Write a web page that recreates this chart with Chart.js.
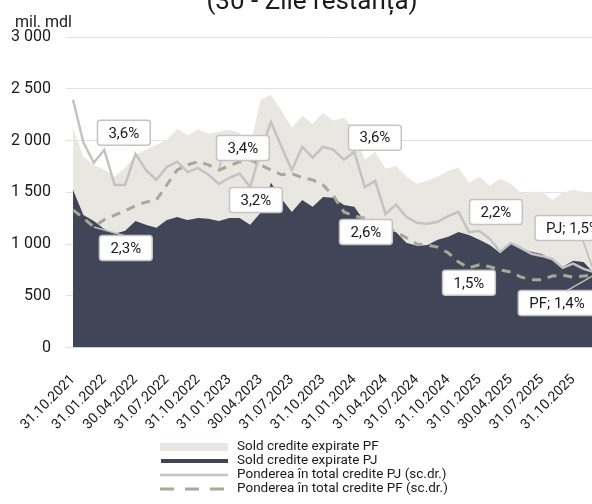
<!DOCTYPE html>
<html>
<head>
<meta charset="utf-8">
<script src="https://cdn.jsdelivr.net/npm/chart.js@4.4.1/dist/chart.umd.min.js"></script>
<style>
  html, body { margin: 0; padding: 0; background: #fff; overflow: hidden; }
  #wrap { width: 592px; height: 504px; overflow: hidden; position: relative; }
  canvas { display: block; }
</style>
</head>
<body>
<div id="wrap"><canvas id="chart" width="604" height="504"></canvas></div>
<script>
// month-end dates, Oct 2021 .. Dec 2025 (every 3rd one is shown on the axis)
const categories = [
  '31.10.2021', '30.11.2021', '31.12.2021', '31.01.2022', '28.02.2022', '31.03.2022',
  '30.04.2022', '31.05.2022', '30.06.2022', '31.07.2022', '31.08.2022', '30.09.2022',
  '31.10.2022', '30.11.2022', '31.12.2022', '31.01.2023', '28.02.2023', '31.03.2023',
  '30.04.2023', '31.05.2023', '30.06.2023', '31.07.2023', '31.08.2023', '30.09.2023',
  '31.10.2023', '30.11.2023', '31.12.2023', '31.01.2024', '29.02.2024', '31.03.2024',
  '31.04.2024', '31.05.2024', '30.06.2024', '31.07.2024', '31.08.2024', '30.09.2024',
  '31.10.2024', '30.11.2024', '31.12.2024', '31.01.2025', '28.02.2025', '31.03.2025',
  '30.04.2025', '31.05.2025', '30.06.2025', '31.07.2025', '31.08.2025', '30.09.2025',
  '31.10.2025', '30.11.2025', '31.12.2025'
];

// mil. mdl
const pjSold = [1523, 1281, 1223, 1146, 1098, 1127, 1223, 1185, 1156, 1233, 1262, 1233,
  1252, 1243, 1223, 1252, 1252, 1185, 1301, 1591, 1440, 1310, 1426, 1359, 1455, 1446,
  1378, 1359, 1214, 1175, 1136, 1117, 1011, 982, 991, 1040, 1069, 1117, 1088, 1040,
  991, 914, 1011, 953, 924, 904, 846, 779, 837, 827, 720];
const pfSold = [598, 561, 542, 571, 551, 609, 639, 725, 802, 773, 851, 818,
  857, 822, 861, 851, 823, 754, 1093, 851, 847, 813, 813, 803, 813, 745,
  841, 745, 599, 716, 590, 638, 638, 599, 619, 609, 638, 619, 503, 609,
  571, 716, 570, 541, 580, 600, 580, 715, 686, 677, 765];

// % of total credits (secondary axis)
const pjShare = [4.79, 3.96, 3.57, 3.82, 3.14, 3.14, 3.74, 3.43, 3.24, 3.49, 3.59, 3.39,
  3.47, 3.34, 3.16, 3.28, 3.36, 3.10, 3.78, 4.36, 3.88, 3.43, 3.88, 3.67, 3.88, 3.82,
  3.63, 3.78, 3.10, 3.22, 2.58, 2.76, 2.52, 2.41, 2.39, 2.43, 2.54, 2.62, 2.23, 2.25,
  2.10, 1.85, 2.02, 1.92, 1.81, 1.77, 1.71, 1.54, 1.62, 1.52, 1.46];
const pfShare = [2.66, 2.50, 2.33, 2.47, 2.56, 2.64, 2.74, 2.81, 2.85, 3.14, 3.43, 3.53,
  3.59, 3.53, 3.43, 3.51, 3.59, 3.63, 3.53, 3.43, 3.34, 3.36, 3.28, 3.24, 3.14, 2.93,
  2.62, 2.54, 2.50, 2.45, 2.35, 2.23, 2.12, 2.00, 1.98, 1.94, 1.83, 1.65, 1.54, 1.60,
  1.56, 1.50, 1.46, 1.36, 1.31, 1.31, 1.38, 1.40, 1.36, 1.38, 1.40];

const yTicks = [0, 500, 1000, 1500, 2000, 2500, 3000];
const y2Range = [0, 6];

// december points that carry a label
const calloutIndex = [2, 14, 26, 38, 50];

// label box placement, pixels from the point (tail = where the leader meets the box)
const calloutLayout = {
  pj: [
    { dx: 30, dy: -30 },
    { dx: 37, dy: 16 },
    { dx: 31, dy: -22 },
    { dx: 27, dy: -20 },
    { dx: -21, dy: -44, tail: [10, 12.5] }
  ],
  pf: [
    { dx: 32, dy: 21, tail: [-2, -12.5] },
    { dx: 24, dy: -22, tail: [-22, 12.5] },
    { dx: 22, dy: 20 },
    { dx: 0, dy: 15 },
    { dx: -37, dy: 28, tail: [10, -12.5] }
  ]
};

const COLORS = {
  pj: '#404658',
  pf: '#e8e7e2',
  pjLine: '#c3c3c3',
  pfLine: '#a9a897',
  grid: '#dde1ea',
  text: '#1a1a1a'
};

Chart.defaults.font.family = 'Roboto, "Liberation Sans", sans-serif';
Chart.defaults.color = COLORS.text;

const fmtThousands = v => v >= 1000 ? Math.floor(v / 1000) + ' ' + String(v % 1000).padStart(3, '0') : String(v);
const fmtPct = v => v.toFixed(1).replace('.', ',') + '%';

const calloutPlugin = {
  id: 'callouts',
  afterDatasetsDraw(chart) {
    const { ctx } = chart;
    const x = chart.scales.x;
    const y1 = chart.scales.y1;
    const h = 25;
    ctx.save();
    ctx.font = '15px Roboto';
    ctx.textAlign = 'center';
    ctx.textBaseline = 'middle';
    [['pj', pjShare, 'PJ; '], ['pf', pfShare, 'PF; ']].forEach(([key, series, prefix]) => {
      calloutIndex.forEach((idx, n) => {
        const lay = calloutLayout[key][n];
        const px = x.getPixelForValue(idx);
        const py = y1.getPixelForValue(series[idx]);
        const text = (n === calloutIndex.length - 1 ? prefix : '') + fmtPct(series[idx]);
        const w = ctx.measureText(text).width + 22;
        const cx = px + lay.dx;
        const cy = py + lay.dy;
        if (lay.tail) {
          ctx.beginPath();
          ctx.moveTo(px, py);
          ctx.lineTo(cx + lay.tail[0], cy + lay.tail[1]);
          ctx.strokeStyle = '#bdbdbd';
          ctx.lineWidth = 1.5;
          ctx.stroke();
        }
        ctx.beginPath();
        ctx.roundRect(cx - w / 2, cy - h / 2, w, h, 3);
        ctx.fillStyle = '#ffffff';
        ctx.fill();
        ctx.strokeStyle = '#c4c4c4';
        ctx.lineWidth = 1.5;
        ctx.stroke();
        ctx.fillStyle = COLORS.text;
        ctx.fillText(text, cx, cy + 1);
      });
    });
    ctx.restore();
  }
};

const decorPlugin = {
  id: 'decor',
  afterDraw(chart) {
    const { ctx } = chart;
    const ds = chart.data.datasets;
    ctx.save();

    // title (cut by the top edge, as in the source image)
    ctx.font = '26px Roboto';
    ctx.textAlign = 'center';
    ctx.textBaseline = 'alphabetic';
    ctx.fillStyle = COLORS.text;
    ctx.fillText('(30 - Zile restanță)', 312, 9);

    // unit
    ctx.font = '16px Roboto';
    ctx.textAlign = 'left';
    ctx.fillText('mil. mdl', 15, 27);

    // legend
    const rows = [447, 461, 475, 489];
    const x0 = 160, x1 = 228;
    ctx.fillStyle = COLORS.pf;
    ctx.fillRect(x0, rows[0] - 4, x1 - x0, 8);
    ctx.fillStyle = COLORS.pj;
    ctx.fillRect(x0 + 1, rows[1] - 2, x1 - x0 - 1, 4);
    ctx.lineWidth = 2.5;
    ctx.strokeStyle = COLORS.pjLine;
    ctx.beginPath(); ctx.moveTo(x0, rows[2]); ctx.lineTo(x1, rows[2]); ctx.stroke();
    ctx.lineWidth = 3;
    ctx.strokeStyle = COLORS.pfLine;
    ctx.setLineDash([14, 11]);
    ctx.beginPath(); ctx.moveTo(x0, rows[3]); ctx.lineTo(x1, rows[3]); ctx.stroke();
    ctx.setLineDash([]);

    ctx.font = '13.5px Roboto';
    ctx.fillStyle = COLORS.text;
    ctx.textBaseline = 'middle';
    [1, 0, 2, 3].forEach((d, r) => ctx.fillText(ds[d].label, 237, rows[r]));
    ctx.restore();
  }
};

new Chart(document.getElementById('chart'), {
  type: 'line',
  data: {
    labels: categories,
    datasets: [
      {
        label: 'Sold credite expirate PJ',
        data: pjSold,
        yAxisID: 'y',
        order: 2,
        fill: 'origin',
        backgroundColor: COLORS.pj,
        borderWidth: 0,
        pointRadius: 0
      },
      {
        label: 'Sold credite expirate PF',
        data: pfSold,
        yAxisID: 'y',
        order: 2,
        fill: '-1',
        backgroundColor: COLORS.pf,
        borderWidth: 0,
        pointRadius: 0
      },
      {
        label: 'Ponderea în total credite PJ (sc.dr.)',
        data: pjShare,
        yAxisID: 'y1',
        order: 1,
        fill: false,
        borderColor: COLORS.pjLine,
        borderWidth: 2.5,
        pointRadius: 0
      },
      {
        label: 'Ponderea în total credite PF (sc.dr.)',
        data: pfShare,
        yAxisID: 'y1',
        order: 0,
        fill: false,
        borderColor: COLORS.pfLine,
        borderWidth: 3,
        borderDash: [9, 7],
        pointRadius: 0
      }
    ]
  },
  options: {
    responsive: false,
    devicePixelRatio: 1,
    animation: false,
    events: [],
    layout: { padding: { left: 0, right: 10, top: 37, bottom: 0 } },
    plugins: {
      legend: { display: false },
      tooltip: { enabled: false },
      title: { display: false }
    },
    scales: {
      x: {
        type: 'category',
        offset: false,
        grid: { display: false },
        border: { display: false },
        ticks: {
          autoSkip: false,
          minRotation: 45,
          maxRotation: 45,
          padding: 16,
          font: { size: 14 },
          color: COLORS.text,
          callback: function (value, index) {
            return index % 3 === 0 ? this.getLabelForValue(value) : '';
          }
        },
        afterFit: scale => {
          scale.height = 156.5;
          scale.paddingLeft = 0;
          scale.paddingRight = 0;
        }
      },
      y: {
        stacked: true,
        min: yTicks[0],
        max: yTicks[yTicks.length - 1],
        border: { display: false },
        grid: { color: COLORS.grid, lineWidth: 1, tickLength: 7 },
        ticks: {
          stepSize: yTicks[1] - yTicks[0],
          padding: 15,
          font: { size: 16 },
          color: COLORS.text,
          callback: v => fmtThousands(v)
        },
        afterFit: scale => {
          scale.width = 73;
          scale.paddingTop = 0;
          scale.paddingBottom = 0;
        }
      },
      y1: {
        position: 'right',
        display: false,
        min: y2Range[0],
        max: y2Range[1],
        grid: { display: false }
      }
    }
  },
  plugins: [calloutPlugin, decorPlugin]
});
</script>
</body>
</html>
